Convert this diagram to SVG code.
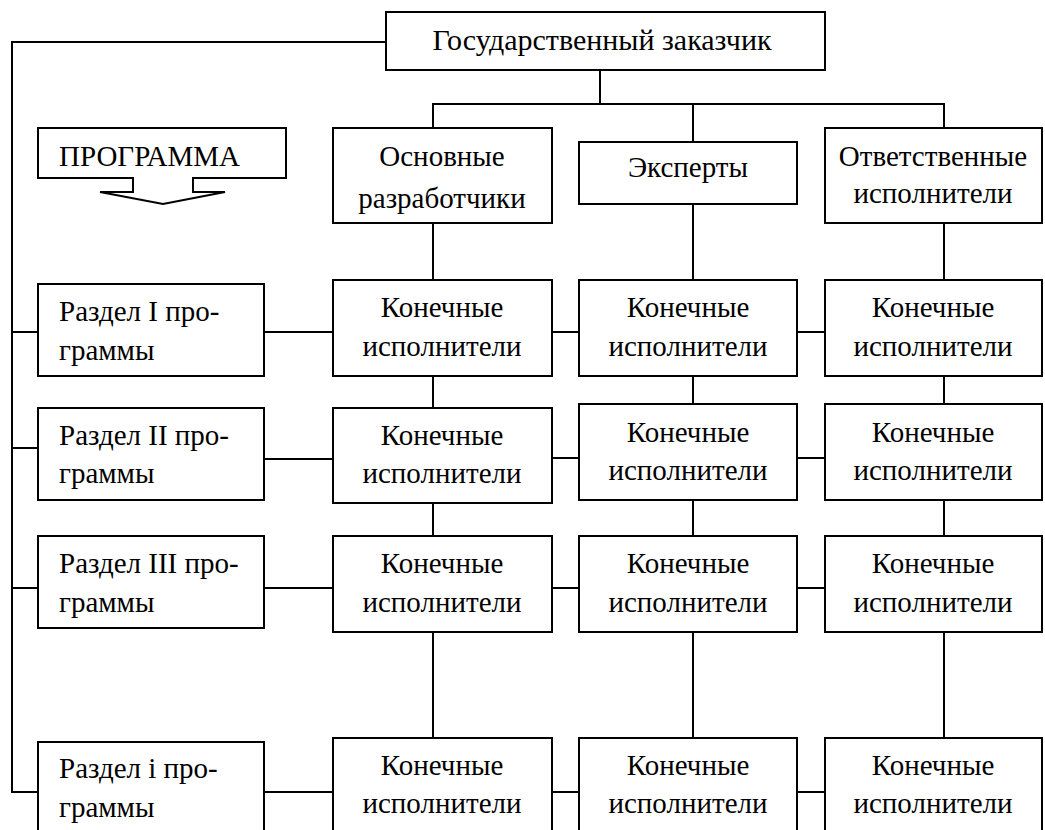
<svg xmlns="http://www.w3.org/2000/svg" width="1045" height="830" viewBox="0 0 1045 830">
<style>
rect{fill:#fff;stroke:#000;stroke-width:2}
.c line,.c polyline{stroke:#000;stroke-width:2;fill:none}
text{font-family:'Liberation Serif','Times New Roman',serif;font-size:29px;fill:#000}
.m{text-anchor:middle}
</style>
<rect x="0" y="0" width="1045" height="830" style="stroke:none"/>
<g class="c" id="connectors">
<polyline points="386,42 12,42 12,792 38,792"/>
<line x1="12" y1="332" x2="38" y2="332"/>
<line x1="12" y1="448" x2="38" y2="448"/>
<line x1="12" y1="588" x2="38" y2="588"/>
<line x1="600" y1="70" x2="600" y2="104"/>
<polyline points="433,128 433,104 944,104 944,128"/>
<line x1="693" y1="104" x2="693" y2="142"/>
<line x1="433" y1="223" x2="433" y2="280"/>
<line x1="693" y1="204" x2="693" y2="280"/>
<line x1="944" y1="223" x2="944" y2="280"/>
<line x1="433" y1="376" x2="433" y2="408"/>
<line x1="693" y1="376" x2="693" y2="404"/>
<line x1="944" y1="376" x2="944" y2="404"/>
<line x1="433" y1="503" x2="433" y2="536"/>
<line x1="693" y1="500" x2="693" y2="536"/>
<line x1="944" y1="500" x2="944" y2="536"/>
<line x1="433" y1="632" x2="433" y2="738"/>
<line x1="693" y1="632" x2="693" y2="738"/>
<line x1="944" y1="632" x2="944" y2="738"/>
<line x1="264" y1="332" x2="333" y2="332"/>
<line x1="552" y1="332" x2="579" y2="332"/>
<line x1="797" y1="332" x2="825" y2="332"/>
<line x1="264" y1="459" x2="333" y2="459"/>
<line x1="552" y1="458" x2="579" y2="458"/>
<line x1="797" y1="458" x2="825" y2="458"/>
<line x1="264" y1="588" x2="333" y2="588"/>
<line x1="552" y1="588" x2="579" y2="588"/>
<line x1="797" y1="588" x2="825" y2="588"/>
<line x1="264" y1="792" x2="333" y2="792"/>
<line x1="552" y1="792" x2="579" y2="792"/>
<line x1="797" y1="792" x2="825" y2="792"/>
</g>
<g id="zakazchik"><rect x="386" y="12" width="439" height="58"/><text class="m" x="602" y="50" style="font-size:30px">Государственный заказчик</text></g>
<g id="programma"><path d="M38,128 H286 V178 H193 V192 H225 L163,204 L100,192 H133 V178 H38 Z" fill="#fff" stroke="#000" stroke-width="2"/><text x="59" y="166">ПРОГРАММА</text></g>
<g id="osnovnye"><rect x="333" y="128" width="219" height="95"/><text class="m" x="442" y="166">Основные</text><text class="m" x="442" y="208">разработчики</text></g>
<g id="eksperty"><rect x="579" y="142" width="218" height="62"/><text class="m" x="688" y="177">Эксперты</text></g>
<g id="otvetstvennye"><rect x="825" y="128" width="217" height="95"/><text class="m" x="933" y="166">Ответственные</text><text class="m" x="933" y="203">исполнители</text></g>
<g id="razdel1"><rect x="38" y="284" width="226" height="92"/><text x="59" y="321">Раздел I про-</text><text x="59" y="360">граммы</text></g>
<g id="razdel2"><rect x="38" y="408" width="226" height="92"/><text x="59" y="445">Раздел II про-</text><text x="59" y="483">граммы</text></g>
<g id="razdel3"><rect x="38" y="536" width="226" height="92"/><text x="59" y="573">Раздел III про-</text><text x="59" y="612">граммы</text></g>
<g id="razdeli"><rect x="38" y="742" width="226" height="100"/><text x="59" y="778">Раздел i про-</text><text x="59" y="817">граммы</text></g>
<g id="k11"><rect x="333" y="280" width="219" height="96"/><text class="m" x="442" y="317">Конечные</text><text class="m" x="442" y="356">исполнители</text></g>
<g id="k12"><rect x="579" y="280" width="218" height="96"/><text class="m" x="688" y="317">Конечные</text><text class="m" x="688" y="356">исполнители</text></g>
<g id="k13"><rect x="825" y="280" width="217" height="96"/><text class="m" x="933" y="317">Конечные</text><text class="m" x="933" y="356">исполнители</text></g>
<g id="k21"><rect x="333" y="408" width="219" height="95"/><text class="m" x="442" y="445">Конечные</text><text class="m" x="442" y="483">исполнители</text></g>
<g id="k22"><rect x="579" y="404" width="218" height="96"/><text class="m" x="688" y="442">Конечные</text><text class="m" x="688" y="480">исполнители</text></g>
<g id="k23"><rect x="825" y="404" width="217" height="96"/><text class="m" x="933" y="442">Конечные</text><text class="m" x="933" y="480">исполнители</text></g>
<g id="k31"><rect x="333" y="536" width="219" height="96"/><text class="m" x="442" y="573">Конечные</text><text class="m" x="442" y="612">исполнители</text></g>
<g id="k32"><rect x="579" y="536" width="218" height="96"/><text class="m" x="688" y="573">Конечные</text><text class="m" x="688" y="612">исполнители</text></g>
<g id="k33"><rect x="825" y="536" width="217" height="96"/><text class="m" x="933" y="573">Конечные</text><text class="m" x="933" y="612">исполнители</text></g>
<g id="k41"><rect x="333" y="738" width="219" height="104"/><text class="m" x="442" y="775">Конечные</text><text class="m" x="442" y="813">исполнители</text></g>
<g id="k42"><rect x="579" y="738" width="218" height="104"/><text class="m" x="688" y="775">Конечные</text><text class="m" x="688" y="813">исполнители</text></g>
<g id="k43"><rect x="825" y="738" width="217" height="104"/><text class="m" x="933" y="775">Конечные</text><text class="m" x="933" y="813">исполнители</text></g>
</svg>
